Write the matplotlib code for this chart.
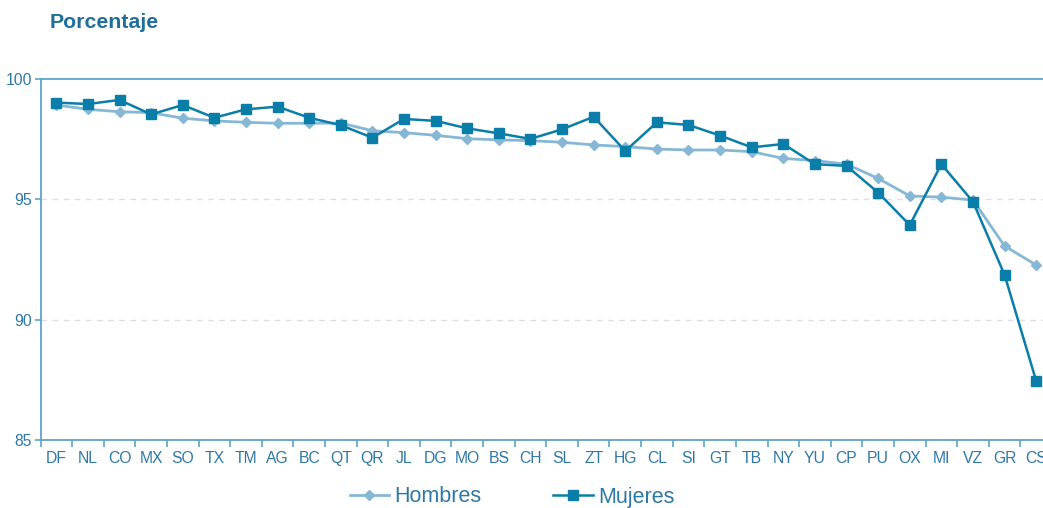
import matplotlib
matplotlib.use("Agg")
import matplotlib.pyplot as plt
from matplotlib.ticker import FixedLocator, NullFormatter

plt.rcParams['font.family'] = ['Liberation Sans', 'DejaVu Sans']

estados = ["DF", "NL", "CO", "MX", "SO", "TX", "TM", "AG", "BC", "QT", "QR", "JL",
           "DG", "MO", "BS", "CH", "SL", "ZT", "HG", "CL", "SI", "GT", "TB", "NY",
           "YU", "CP", "PU", "OX", "MI", "VZ", "GR", "CS"]
hombres = [98.92, 98.74, 98.64, 98.60, 98.37, 98.26, 98.20, 98.16, 98.16, 98.17,
           97.85, 97.77, 97.66, 97.52, 97.47, 97.44, 97.37, 97.26, 97.19, 97.09,
           97.05, 97.05, 96.98, 96.70, 96.61, 96.46, 95.87, 95.14, 95.09, 94.97,
           93.06, 92.27]
mujeres = [99.02, 98.96, 99.13, 98.53, 98.92, 98.39, 98.74, 98.85, 98.39, 98.08,
           97.56, 98.34, 98.26, 97.95, 97.74, 97.51, 97.91, 98.43, 97.01, 98.20,
           98.09, 97.65, 97.16, 97.30, 96.46, 96.39, 95.28, 93.93, 96.46, 94.90,
           91.86, 87.45]
y_ticks = [85, 90, 95, 100]

axis_color = "#5fa3c9"
label_color = "#2e78a6"
c_hombres = "#86b8d6"
c_mujeres = "#0a7ea8"

W, H = 1043, 508
fig = plt.figure(figsize=(W / 100, H / 100), dpi=100)
left, right, top, bottom = 40.5, 1052, 79, 440
ax = fig.add_axes([left / W, 1 - bottom / H, (right - left) / W, (bottom - top) / H])

x = list(range(len(estados)))
ax.plot(x, hombres, color=c_hombres, lw=2, marker="D", ms=5.5,
        mec=c_hombres, mfc=c_hombres, label="Hombres", zorder=3)
ax.plot(x, mujeres, color=c_mujeres, lw=1.8, marker="s", ms=6.5,
        mec=c_mujeres, mfc=c_mujeres, label="Mujeres", zorder=4)

ax.set_xlim(-0.5, len(estados) - 0.5)
ax.set_ylim(85, 100)
ax.set_yticks(y_ticks)
ax.set_xticks(x)
ax.set_xticklabels(estados)
ax.xaxis.set_minor_locator(FixedLocator([i - 0.5 for i in range(len(estados) + 1)]))
ax.xaxis.set_minor_formatter(NullFormatter())
ax.tick_params(axis="x", which="major", length=0, pad=8, labelsize=11.3, labelcolor=label_color)
ax.tick_params(axis="x", which="minor", length=5, width=1.2, color=axis_color, direction="out")
ax.tick_params(axis="y", length=4, width=1.2, color=axis_color, direction="out",
               pad=2, labelsize=11.3, labelcolor=label_color)

for v in [90, 95]:
    ax.axhline(v, color="#dedede", lw=1, ls=(0, (4, 4)), zorder=1)

for side in ["left", "top", "bottom"]:
    ax.spines[side].set_color(axis_color)
    ax.spines[side].set_linewidth(1.3)
ax.spines["right"].set_visible(False)

fig.text(50 / W, 1 - 22 / H, "Porcentaje", fontsize=15.3, fontweight="bold",
         color="#1f6e9c", va="center", ha="left")

leg = fig.legend(loc="center", bbox_to_anchor=(512 / W, 1 - 497 / H), ncol=2,
                 frameon=False, fontsize=15.5, handlelength=1.85, handletextpad=0.25,
                 columnspacing=3.3)
for t in leg.get_texts():
    t.set_color(label_color)

fig.savefig("out.png", dpi=100)
